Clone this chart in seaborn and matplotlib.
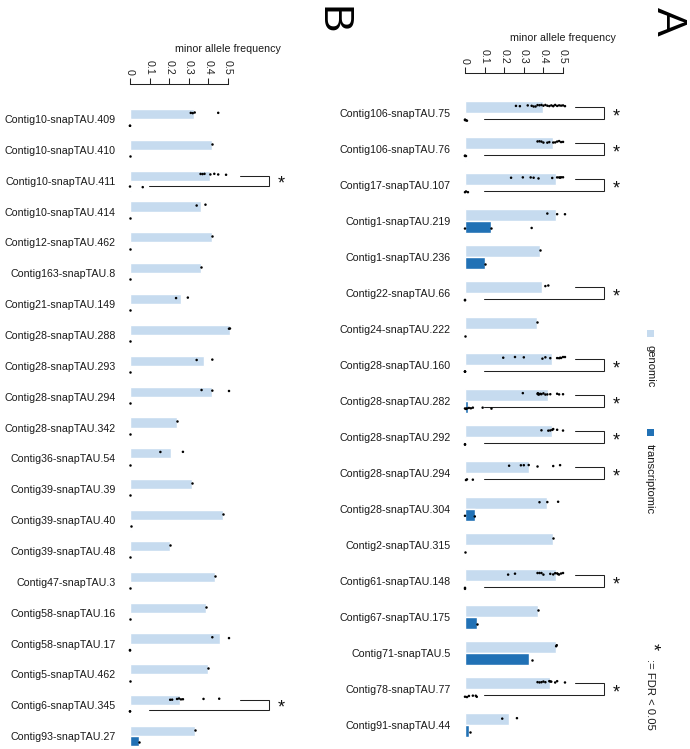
import numpy as np
import pandas as pd
import matplotlib
matplotlib.use('Agg')
import matplotlib.pyplot as plt
import seaborn as sns
from matplotlib.patches import Rectangle

# Panel A
snps_a = ['Contig106-snapTAU.75', 'Contig106-snapTAU.76', 'Contig17-snapTAU.107',
          'Contig1-snapTAU.219', 'Contig1-snapTAU.236', 'Contig22-snapTAU.66',
          'Contig24-snapTAU.222', 'Contig28-snapTAU.160', 'Contig28-snapTAU.282',
          'Contig28-snapTAU.292', 'Contig28-snapTAU.294', 'Contig28-snapTAU.304',
          'Contig2-snapTAU.315', 'Contig61-snapTAU.148', 'Contig67-snapTAU.175',
          'Contig71-snapTAU.5', 'Contig78-snapTAU.77', 'Contig91-snapTAU.44']
gen_bar_a = [0.40, 0.45, 0.465, 0.465, 0.385, 0.395, 0.365, 0.445, 0.425,
             0.445, 0.325, 0.42, 0.45, 0.465, 0.37, 0.465, 0.435, 0.225]
tx_bar_a = [0.005, 0.003, 0.005, 0.135, 0.10, 0.003, 0.002, 0.003, 0.015,
            0.003, 0.005, 0.05, 0.002, 0.003, 0.06, 0.325, 0.005, 0.02]
gen_pts_a = [
    [0.26, 0.28, 0.32, 0.34, 0.35, 0.36, 0.37, 0.38, 0.39, 0.40, 0.41, 0.42,
     0.43, 0.44, 0.45, 0.45, 0.46, 0.47, 0.48, 0.49, 0.50, 0.51],
    [0.37, 0.38, 0.39, 0.40, 0.42, 0.43, 0.45, 0.46, 0.47, 0.48, 0.49, 0.50],
    [0.235, 0.295, 0.335, 0.35, 0.375, 0.445, 0.47, 0.48, 0.485, 0.49, 0.50],
    [0.42, 0.47, 0.51],
    [0.385],
    [0.41, 0.425],
    [0.365],
    [0.195, 0.255, 0.30, 0.395, 0.41, 0.435, 0.47, 0.48, 0.485, 0.49, 0.50, 0.51],
    [0.295, 0.37, 0.372, 0.375, 0.38, 0.385, 0.39, 0.40, 0.41, 0.42, 0.435,
     0.47, 0.48, 0.50],
    [0.39, 0.425, 0.435, 0.445, 0.45, 0.47, 0.50],
    [0.225, 0.285, 0.30, 0.325, 0.37, 0.45, 0.485],
    [0.38, 0.42, 0.475],
    [0.45],
    [0.22, 0.255, 0.37, 0.38, 0.39, 0.40, 0.435, 0.45, 0.46, 0.47, 0.475,
     0.48, 0.49, 0.50],
    [0.37],
    [0.465, 0.468],
    [0.37, 0.38, 0.39, 0.40, 0.41, 0.43, 0.435, 0.44, 0.46, 0.47, 0.51],
    [0.19, 0.265],
]
tx_pts_a = [
    [0, 0, 0.005, 0.01], [0, 0, 0.005], [0, 0.005, 0.015], [0.0, 0.135, 0.34],
    [0.10], [0, 0], [0], [0, 0, 0],
    [0, 0.005, 0.01, 0.02, 0.03, 0.04, 0.09, 0.135],
    [0, 0], [0.005, 0.01, 0.04], [0.0, 0.05], [0], [0, 0], [0.06], [0.34],
    [0, 0.01, 0.02, 0.04, 0.055, 0.06], [0.025],
]
sig_a = ['Contig106-snapTAU.75', 'Contig106-snapTAU.76', 'Contig17-snapTAU.107',
         'Contig22-snapTAU.66', 'Contig28-snapTAU.160', 'Contig28-snapTAU.282',
         'Contig28-snapTAU.292', 'Contig28-snapTAU.294', 'Contig61-snapTAU.148',
         'Contig78-snapTAU.77']

# Panel B
snps_b = ['Contig10-snapTAU.409', 'Contig10-snapTAU.410', 'Contig10-snapTAU.411',
          'Contig10-snapTAU.414', 'Contig12-snapTAU.462', 'Contig163-snapTAU.8',
          'Contig21-snapTAU.149', 'Contig28-snapTAU.288', 'Contig28-snapTAU.293',
          'Contig28-snapTAU.294', 'Contig28-snapTAU.342', 'Contig36-snapTAU.54',
          'Contig39-snapTAU.39', 'Contig39-snapTAU.40', 'Contig39-snapTAU.48',
          'Contig47-snapTAU.3', 'Contig58-snapTAU.16', 'Contig58-snapTAU.17',
          'Contig5-snapTAU.462', 'Contig6-snapTAU.345', 'Contig93-snapTAU.27']
gen_bar_b = [0.325, 0.42, 0.41, 0.36, 0.42, 0.36, 0.26, 0.51, 0.375, 0.42, 0.24,
             0.21, 0.315, 0.475, 0.205, 0.435, 0.39, 0.46, 0.40, 0.255, 0.33]
tx_bar_b = [0.003, 0.002, 0.003, 0.002, 0.002, 0.002, 0.002, 0.002, 0.002, 0.002,
            0.002, 0.002, 0.002, 0.004, 0.002, 0.002, 0.002, 0.002, 0.002, 0.003,
            0.045]
gen_pts_b = [
    [0.31, 0.32, 0.33, 0.45], [0.42], [0.36, 0.37, 0.38, 0.41, 0.43, 0.45, 0.49],
    [0.34, 0.385], [0.42], [0.36], [0.235, 0.295], [0.505, 0.51], [0.34, 0.42],
    [0.365, 0.42, 0.505], [0.24], [0.155, 0.27], [0.315], [0.475], [0.205],
    [0.435], [0.39], [0.42, 0.505], [0.40],
    [0.205, 0.215, 0.24, 0.25, 0.26, 0.27, 0.375, 0.455], [0.33],
]
tx_pts_b = [
    [0, 0], [0], [0, 0.065], [0], [0], [0], [0], [0], [0], [0], [0], [0], [0],
    [0.003], [0], [0], [0], [0, 0], [0], [0, 0], [0.045],
]
sig_b = ['Contig10-snapTAU.411', 'Contig6-snapTAU.345']

types = ['genomic', 'transcriptomic']
colors = {'genomic': '#c6dbef', 'transcriptomic': '#2171b5'}

sns.set_theme(style='white')
plt.rcParams['font.family'] = ['Liberation Sans', 'DejaVu Sans']

W, H = 690, 749
fig = plt.figure(figsize=(W / 100, H / 100), dpi=100)
fig.patch.set_facecolor('white')


def make_frames(snps, gbar, tbar, gpts, tpts):
    bars = pd.DataFrame({'snp': snps * 2,
                         'type': ['genomic'] * len(snps) + ['transcriptomic'] * len(snps),
                         'maf': list(gbar) + list(tbar)})
    rows = []
    for s, g, t in zip(snps, gpts, tpts):
        rows += [(s, 'genomic', v) for v in g]
        rows += [(s, 'transcriptomic', v) for v in t]
    pts = pd.DataFrame(rows, columns=['snp', 'type', 'maf'])
    return bars, pts


def draw_panel(rect_px, snps, gbar, tbar, gpts, tpts, sig, ytop):
    x0, y0, x1, y1 = rect_px
    ax = fig.add_axes([x0 / W, 1 - y1 / H, (x1 - x0) / W, (y1 - y0) / H])
    bars, pts = make_frames(snps, gbar, tbar, gpts, tpts)
    sns.barplot(data=bars, x='maf', y='snp', hue='type', hue_order=types,
                order=snps, palette=colors, width=0.66, saturation=1,
                orient='h', legend=False, ax=ax)
    np.random.seed(3)
    sns.stripplot(data=pts, x='maf', y='snp', hue='type', hue_order=types,
                  order=snps, palette={'genomic': 'black', 'transcriptomic': 'black'},
                  dodge=True, jitter=0.05, size=1.8, marker='o', linewidth=0,
                  orient='h', legend=False, ax=ax, clip_on=False)
    # significance brackets
    for s in sig:
        i = snps.index(s)
        yg, yt = i - 0.165, i + 0.165
        ax.plot([0.56, 0.709, 0.709, 0.097], [yg, yg, yt, yt],
                color='#222222', lw=0.75, solid_joinstyle='miter')
        ax.text(0.77, i + 0.1, '*', ha='center', va='center', fontsize=13,
                color='#111111')
    ax.set_xlim(-0.01, 1.01)
    ax.set_ylim(len(snps) - 0.5, ytop)
    for sp in ['left', 'right', 'bottom']:
        ax.spines[sp].set_visible(False)
    ax.spines['top'].set_bounds(0, 0.5)
    ax.spines['top'].set_linewidth(0.75)
    ax.spines['top'].set_color('#222222')
    ax.xaxis.tick_top()
    ax.xaxis.set_label_position('top')
    ax.set_xticks([0, 0.1, 0.2, 0.3, 0.4, 0.5])
    ax.set_xticklabels(['0', '0.1', '0.2', '0.3', '0.4', '0.5'], rotation=-90)
    ax.tick_params(axis='x', length=4.5, width=0.75, color='#222222', pad=2,
                   labelsize=7.7, labelcolor='#222222', direction='out', top=True,
                   bottom=False)
    ax.tick_params(axis='y', length=0, pad=9, labelsize=7.7, labelcolor='#1a1a1a')
    ax.set_xlabel('minor allele frequency', fontsize=7.7, color='#1a1a1a', labelpad=6)
    ax.set_ylabel('')
    ax.grid(False)
    return ax


# B on the left, A on the right
draw_panel((128.04, 84, 328, 751.6), snps_b, gen_bar_b, tx_bar_b, gen_pts_b,
           tx_pts_b, sig_b, -1.134)
draw_panel((463.04, 73, 663, 743), snps_a, gen_bar_a, tx_bar_a, gen_pts_a,
           tx_pts_a, sig_a, -1.111)

# panel letters
fig.text(331 / W, 1 - 20 / H, 'B', rotation=-90, fontsize=31, ha='center',
         va='center', color='black')
fig.text(668 / W, 1 - 21 / H, 'A', rotation=-90, fontsize=31, ha='center',
         va='center', color='black')

# legend (rotated)
for yc, t in [(333, 'genomic'), (432, 'transcriptomic')]:
    fig.patches.append(Rectangle(((650 - 3.5) / W, 1 - (yc + 3.5) / H), 7 / W, 7 / H,
                                 transform=fig.transFigure, facecolor=colors[t],
                                 edgecolor='none'))
    fig.text(650 / W, 1 - (yc + 12) / H, t, rotation=-90, fontsize=8.1,
             ha='center', va='top', color='#1a1a1a')
fig.text(652 / W, 1 - 647 / H, '*', rotation=-90, fontsize=13, ha='center',
         va='center', color='#111111')
fig.text(650 / W, 1 - 659 / H, ':= FDR < 0.05', rotation=-90, fontsize=8.1,
         ha='center', va='top', color='#1a1a1a')

fig.savefig('out.png', dpi=100, facecolor='white')
